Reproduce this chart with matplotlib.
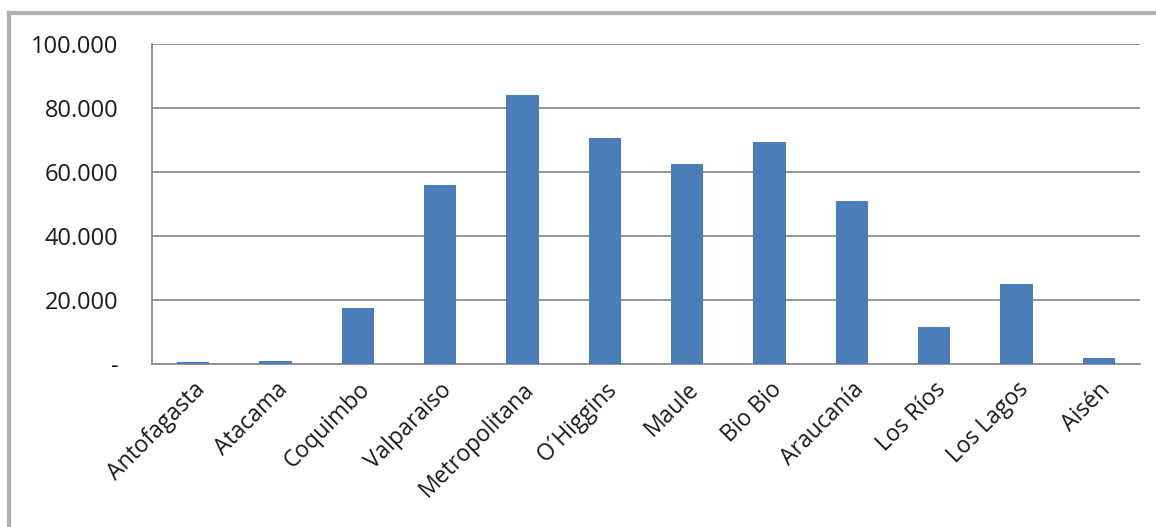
import matplotlib.pyplot as plt
from matplotlib.lines import Line2D

regiones = ["Antofagasta", "Atacama", "Coquimbo", "Valparaiso", "Metropolitana",
            "O´Higgins", "Maule", "Bio Bio", "Araucanía", "Los Ríos", "Los Lagos", "Aisén"]
valores = [500, 1000, 17400, 56000, 84100, 70500, 62500, 69500, 51000, 11500, 25000, 2000]
yticks = [0, 20000, 40000, 60000, 80000, 100000]
ylabels = ["-", "20.000", "40.000", "60.000", "80.000", "100.000"]

plt.rcParams['font.family'] = ['Open Sans', 'DejaVu Sans']

W, H = 1156, 527
fig = plt.figure(figsize=(W / 100, H / 100), dpi=100)
ax = fig.add_axes([152 / W, 1 - 364 / H, (1140 - 152) / W, (364 - 44) / H])

x = range(len(regiones))
ax.bar(x, valores, width=0.39, color="#4a7ebb", zorder=3)
ax.set_xlim(-0.5, len(regiones) - 0.5)
ax.set_ylim(0, 100000)
ax.set_yticks(yticks)
ax.set_yticklabels(ylabels, fontsize=17, color="#1a1a1a")
ax.set_xticks(list(x))
ax.set_xticklabels(regiones, rotation=45, ha="right", rotation_mode="anchor",
                   fontsize=16.5, color="#1a1a1a")
ax.tick_params(axis="x", length=0, pad=10)
ax.tick_params(axis="y", length=0, pad=24)
ax.grid(axis="y", color="#8c8c8c", linewidth=1.3, zorder=0)
for s in ["top", "right"]:
    ax.spines[s].set_visible(False)
ax.spines["left"].set_color("#8c8c8c")
ax.spines["bottom"].set_color("#8c8c8c")
ax.spines["left"].set_linewidth(1.3)
ax.spines["bottom"].set_linewidth(1.3)

# outer frame
fig.add_artist(Line2D([9 / W, 9 / W], [0, 1 - 13 / H], color="#b0b0b0", linewidth=3, transform=fig.transFigure))
fig.add_artist(Line2D([9 / W, 1], [1 - 13 / H, 1 - 13 / H], color="#b0b0b0", linewidth=3, transform=fig.transFigure))

fig.savefig("out.png", dpi=100)
